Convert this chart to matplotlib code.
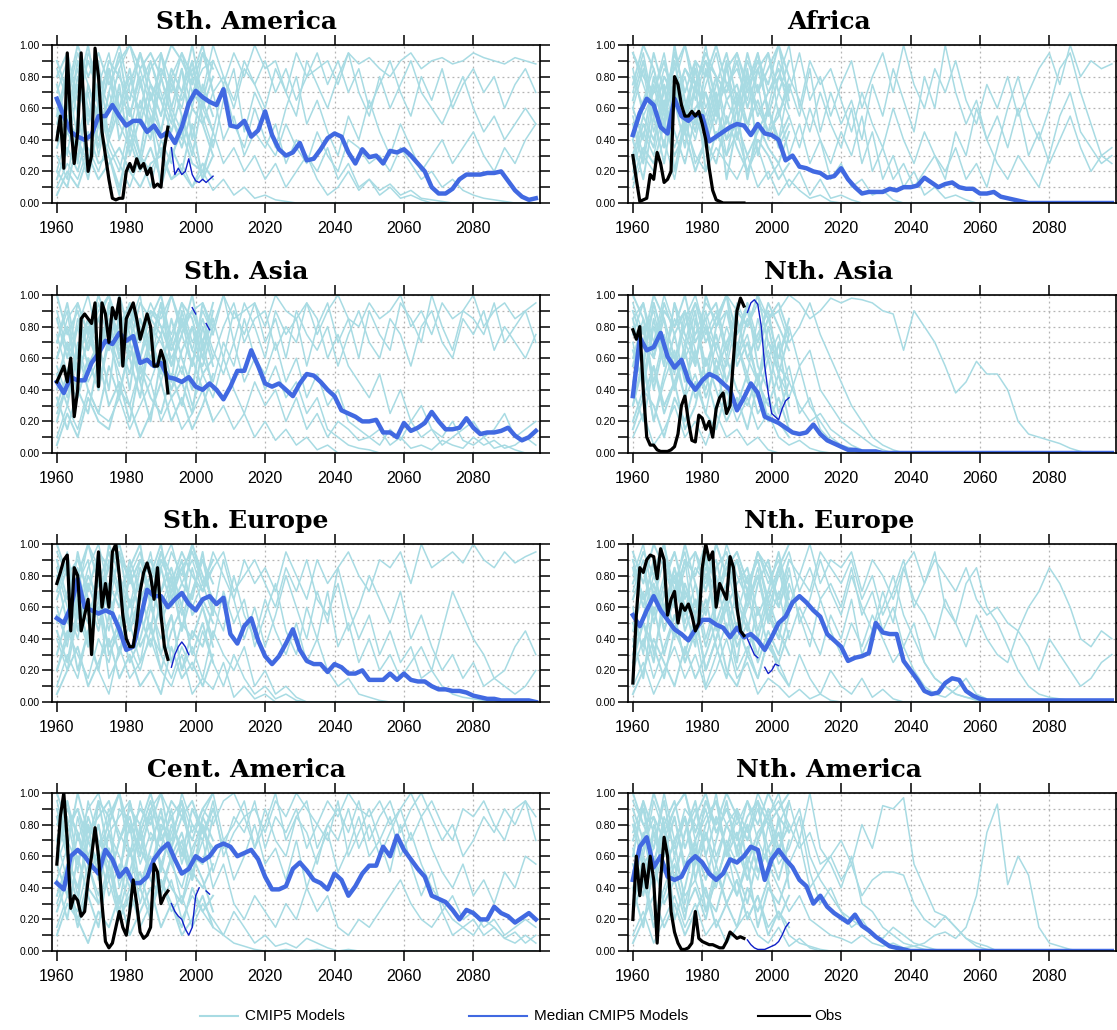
import numpy as np
import matplotlib
matplotlib.use("Agg")
import matplotlib.pyplot as plt
from matplotlib.lines import Line2D
from matplotlib.ticker import MultipleLocator

plt.rcParams.update({'font.family': ['Liberation Sans', 'DejaVu Sans']})

MODEL_COL = '#a8dbe3'
MEDIAN_COL = '#4169e1'
TAIL_COL = '#1020c8'

# all values are fractions x 100
# median: every 2 years from 1960, obs: yearly 1960-1992,
# tail: yearly 1993-2005, models: every 3 years from 1960, hist: every 3 years 1960-2005

# ---- Sth. America
sam_median = [66, 55, 45, 42, 40, 43, 55, 55, 62, 55, 49, 52, 52, 45, 49, 42, 45, 38, 48, 63,
              71, 67, 64, 62, 72, 49, 48, 52, 42, 46, 58, 43, 34, 30, 32, 38, 27, 28, 34, 41,
              44, 42, 32, 25, 34, 29, 30, 25, 33, 32, 34, 30, 25, 20, 10, 6, 6, 9, 15, 18,
              18, 18, 19, 19, 20, 14, 8, 4, 2, 3]
sam_obs = [40, 55, 22, 95, 50, 25, 45, 95, 50, 20, 30, 98, 80, 45, 30, 15, 3, 2, 3, 3,
           20, 25, 20, 28, 22, 25, 18, 22, 10, 12, 10, 35, 48]
sam_tail = [35, 18, 22, 18, 20, 28, 18, 14, 13, 15, 13, 15, 17]
sam_models = [
    [70, 90, 55, 95, 80, 60, 85, 100, 75, 90, 65, 80, 95, 70, 85, 90, 75, 95, 80, 100,
     85, 90, 70, 95, 80, 85, 90, 75, 95, 88, 92, 85, 80, 90, 95, 85, 90, 92, 88, 90,
     95, 92, 90, 88, 92, 90, 88],
    [40, 60, 85, 50, 75, 95, 60, 80, 55, 90, 70, 50, 85, 60, 95, 70, 80, 65, 90, 75,
     60, 85, 70, 55, 90, 75, 60, 80, 95, 70, 55, 80, 60, 75, 90, 70, 60, 50, 65, 80,
     60, 45, 55, 40, 50, 60, 50],
    [20, 45, 30, 60, 40, 70, 50, 35, 65, 45, 80, 55, 40, 70, 60, 45, 75, 50, 35, 60,
     40, 30, 50, 35, 25, 45, 30, 20, 40, 35, 25, 30, 20, 35, 25, 15, 20, 10, 15, 8,
     5, 3, 2, 1, 0, 0, 0],
    [60, 30, 75, 50, 90, 40, 70, 55, 85, 60, 45, 75, 60, 90, 50, 70, 40, 55, 30, 45,
     35, 50, 25, 40, 30, 20, 35, 15, 25, 10, 15, 8, 12, 5, 8, 3, 2, 1, 0, 0,
     0, 0, 0, 0, 0, 0, 0],
    [10, 25, 15, 35, 20, 40, 25, 10, 30, 20, 35, 15, 25, 10, 20, 8, 15, 5, 10, 3,
     5, 2, 1, 0, 0, 0, 0, 0, 0, 0, 0, 0, 0, 0, 0, 0, 0, 0, 0, 0,
     0, 0, 0, 0, 0, 0, 0],
    [85, 65, 95, 75, 55, 80, 100, 70, 60, 85, 95, 75, 65, 85, 70, 100, 80, 60, 85, 75,
     90, 70, 85, 65, 80, 95, 75, 90, 70, 85, 60, 75, 90, 70, 55, 80, 65, 85, 60, 75,
     85, 70, 80, 60, 75, 85, 70],
    [50, 80, 40, 70, 30, 60, 85, 45, 75, 55, 30, 60, 45, 80, 55, 35, 65, 85, 45, 70,
     55, 35, 60, 80, 50, 65, 45, 30, 55, 40, 65, 45, 30, 50, 35, 20, 30, 40, 25, 35,
     45, 30, 20, 35, 25, 40, 50],
    [30, 15, 55, 25, 65, 35, 20, 50, 30, 10, 40, 25, 55, 35, 15, 45, 25, 35, 20, 30,
     15, 25, 10, 20, 30, 15, 5, 10, 20, 8, 15, 5, 10, 3, 5, 2, 0, 0, 0, 0,
     0, 0, 0, 0, 0, 0, 0],
]
sam_hist = [
    [90, 70, 100, 80, 95, 75, 90, 100, 85, 95, 80, 100, 90, 75, 95, 85],
    [15, 35, 20, 45, 25, 30, 10, 40, 20, 35, 15, 30, 45, 25, 20, 40],
    [65, 45, 80, 55, 70, 40, 60, 85, 50, 75, 65, 45, 70, 90, 60, 80],
    [35, 55, 40, 25, 60, 45, 75, 30, 55, 40, 80, 55, 35, 60, 50, 30],
    [80, 95, 65, 90, 70, 85, 55, 75, 95, 65, 85, 70, 95, 80, 100, 70],
    [5, 20, 10, 30, 15, 25, 35, 20, 10, 25, 30, 15, 20, 10, 25, 15],
    [55, 85, 70, 100, 60, 90, 80, 65, 95, 75, 55, 85, 70, 100, 65, 90],
    [20, 10, 40, 15, 50, 30, 5, 45, 25, 55, 10, 35, 20, 50, 15, 30],
    [75, 50, 90, 60, 35, 70, 95, 55, 80, 45, 95, 60, 85, 40, 75, 55],
    [45, 65, 25, 75, 50, 85, 40, 60, 30, 70, 45, 80, 55, 30, 65, 45],
]

# ---- Africa
afr_median = [43, 57, 66, 62, 48, 44, 66, 55, 52, 56, 55, 39, 42, 45, 48, 50, 49, 43, 50, 44,
              43, 40, 27, 30, 23, 22, 20, 19, 16, 17, 22, 15, 10, 6, 7, 7, 7, 9, 8, 10,
              10, 11, 16, 13, 10, 12, 13, 10, 9, 9, 6, 6, 7, 4, 3, 2, 1, 0, 0, 0,
              0, 0, 0, 0, 0, 0, 0, 0, 0, 0]
afr_obs = [30, 15, 1, 2, 3, 18, 15, 32, 25, 13, 15, 20, 80, 75, 62, 55, 55, 58, 55, 58,
           50, 40, 22, 8, 2, 1, 0, 0, 0, 0, 0, 0, 0]
afr_tail = [0, 0, 0, 0, 0, 0, 0, 0, 0, 0, 0, None, None]
afr_models = [
    [70, 95, 60, 85, 75, 100, 65, 90, 80, 70, 95, 75, 85, 60, 90, 70, 95, 65, 80, 55,
     75, 90, 60, 80, 95, 70, 100, 75, 60, 85, 70, 90, 65, 50, 75, 60, 80, 55, 70, 85,
     95, 75, 100, 80, 90, 85, 88],
    [40, 65, 85, 55, 75, 45, 90, 60, 80, 50, 70, 45, 85, 60, 40, 75, 55, 85, 45, 70,
     50, 65, 40, 75, 55, 85, 65, 45, 80, 60, 100, 70, 50, 65, 40, 55, 35, 60, 30, 45,
     25, 40, 55, 35, 20, 30, 25],
    [85, 55, 70, 95, 60, 80, 50, 75, 95, 65, 50, 80, 60, 45, 70, 55, 35, 60, 40, 25,
     45, 30, 55, 20, 35, 15, 25, 10, 20, 30, 15, 45, 30, 60, 40, 25, 15, 30, 20, 10,
     30, 55, 70, 45, 35, 25, 30],
    [20, 45, 30, 60, 35, 55, 25, 40, 65, 30, 45, 20, 35, 15, 25, 10, 20, 5, 15, 3,
     5, 2, 0, 0, 0, 0, 0, 0, 0, 0, 0, 0, 0, 0, 0, 0, 0, 0, 0, 0,
     0, 0, 0, 0, 0, 0, 0],
    [55, 30, 75, 45, 90, 60, 40, 70, 50, 85, 60, 90, 70, 95, 55, 80, 65, 45, 70, 50,
     35, 60, 25, 45, 15, 30, 10, 20, 5, 10, 3, 5, 2, 0, 0, 0, 0, 0, 0, 0,
     0, 0, 0, 0, 0, 0, 0],
    [95, 75, 55, 80, 65, 85, 70, 100, 60, 75, 85, 65, 95, 70, 80, 100, 60, 90, 75, 85,
     65, 45, 70, 50, 35, 60, 40, 25, 45, 30, 20, 35, 15, 25, 10, 35, 60, 80, 55, 40,
     60, 85, 95, 70, 50, 30, 35],
    [10, 30, 20, 40, 15, 50, 30, 20, 35, 25, 15, 30, 10, 20, 5, 15, 8, 3, 5, 1,
     0, 0, 0, 0, 0, 0, 0, 0, 0, 0, 0, 0, 0, 0, 0, 0, 0, 0, 0, 0,
     0, 0, 0, 0, 0, 0, 0],
    [60, 85, 45, 70, 90, 50, 75, 55, 80, 40, 65, 50, 75, 40, 60, 30, 50, 25, 40, 15,
     25, 10, 15, 5, 8, 2, 0, 0, 0, 0, 0, 0, 0, 0, 0, 0, 0, 0, 0, 0,
     0, 0, 0, 0, 0, 0, 0],
]
afr_hist = [
    [80, 60, 95, 70, 85, 100, 75, 90, 65, 85, 95, 70, 90, 75, 100, 80],
    [30, 55, 40, 65, 45, 25, 55, 35, 60, 40, 50, 30, 45, 60, 35, 50],
    [95, 80, 70, 90, 60, 85, 75, 95, 80, 70, 90, 60, 85, 95, 70, 90],
    [15, 35, 25, 50, 30, 45, 20, 40, 25, 55, 35, 20, 40, 30, 15, 25],
    [65, 90, 55, 80, 70, 60, 85, 50, 75, 95, 65, 80, 55, 70, 85, 60],
    [50, 25, 65, 35, 80, 45, 60, 70, 40, 65, 75, 50, 65, 45, 55, 75],
    [75, 100, 85, 60, 95, 70, 90, 80, 100, 75, 60, 95, 70, 85, 100, 65],
    [40, 15, 55, 25, 65, 35, 75, 20, 45, 30, 60, 15, 50, 35, 25, 45],
    [60, 40, 80, 50, 100, 65, 45, 85, 55, 90, 40, 75, 95, 55, 80, 70],
    [25, 50, 35, 75, 20, 55, 85, 45, 70, 15, 50, 85, 30, 60, 40, 55],
]

# ---- Sth. Asia
sas_median = [45, 38, 48, 46, 46, 57, 63, 71, 69, 76, 71, 74, 57, 59, 55, 57, 48, 47, 45, 48,
              42, 40, 44, 40, 34, 42, 52, 52, 65, 55, 44, 42, 44, 40, 36, 44, 50, 49, 45, 40,
              36, 27, 25, 23, 20, 20, 21, 13, 13, 10, 19, 14, 16, 19, 26, 20, 15, 15, 16, 22,
              16, 12, 13, 13, 14, 16, 11, 8, 10, 14]
sas_obs = [45, 50, 55, 45, 60, 23, 40, 85, 88, 85, 82, 95, 42, 95, 88, 70, 92, 85, 98, 55,
           85, 90, 95, 85, 72, 80, 88, 80, 55, 55, 65, 58, 38]
sas_tail = [43, None, None, None, 60, None, 92, 88, None, None, 82, 78, None]
sas_models = [
    [60, 85, 95, 75, 90, 100, 80, 95, 70, 90, 85, 100, 75, 90, 95, 80, 100, 85, 90, 95,
     80, 100, 90, 85, 95, 75, 90, 100, 85, 80, 95, 85, 90, 100, 80, 90, 75, 95, 85, 90,
     100, 80, 90, 95, 85, 90, 95],
    [40, 70, 55, 85, 65, 90, 75, 60, 85, 70, 95, 65, 80, 90, 70, 85, 60, 90, 75, 95,
     70, 85, 60, 90, 75, 65, 80, 55, 75, 90, 70, 60, 85, 75, 55, 80, 90, 70, 60, 85,
     75, 90, 65, 80, 70, 60, 75],
    [75, 50, 85, 65, 95, 70, 80, 90, 60, 80, 70, 55, 85, 65, 90, 75, 100, 70, 95, 80,
     60, 90, 75, 85, 55, 80, 95, 70, 85, 60, 90, 75, 65, 95, 85, 70, 100, 80, 65, 90,
     85, 75, 95, 70, 80, 90, 70],
    [25, 45, 35, 60, 40, 70, 50, 30, 55, 45, 65, 40, 55, 30, 50, 35, 60, 40, 25, 45,
     30, 40, 20, 35, 15, 25, 10, 20, 15, 8, 10, 5, 15, 8, 20, 10, 15, 5, 10, 15,
     20, 10, 15, 25, 10, 15, 20],
    [90, 65, 80, 100, 70, 85, 60, 90, 75, 95, 80, 60, 75, 55, 85, 65, 50, 70, 45, 60,
     40, 55, 35, 45, 25, 35, 15, 10, 5, 3, 2, 0, 0, 0, 0, 0, 0, 0, 0, 0,
     0, 0, 0, 0, 0, 0, 0],
    [10, 30, 15, 40, 25, 20, 35, 15, 30, 45, 20, 35, 15, 25, 40, 20, 30, 15, 25, 10,
     20, 8, 15, 5, 10, 2, 5, 0, 0, 0, 0, 0, 0, 0, 0, 0, 0, 0, 0, 0,
     0, 0, 0, 0, 0, 0, 0],
    [55, 35, 70, 45, 60, 80, 40, 65, 50, 75, 45, 70, 50, 80, 60, 45, 70, 55, 85, 60,
     50, 70, 45, 60, 35, 50, 30, 40, 20, 15, 10, 15, 5, 10, 3, 5, 2, 8, 5, 3,
     10, 5, 8, 3, 5, 10, 5],
    [70, 90, 45, 75, 55, 95, 65, 80, 100, 55, 90, 75, 95, 70, 85, 60, 80, 95, 70, 85,
     90, 65, 80, 70, 95, 85, 60, 75, 55, 45, 35, 50, 25, 40, 20, 30, 15, 10, 20, 8,
     5, 10, 3, 5, 2, 0, 0],
]
sas_hist = [
    [20, 45, 65, 85, 55, 95, 70, 50, 80, 60, 75, 45, 90, 65, 55, 80],
    [85, 60, 95, 75, 100, 80, 90, 70, 95, 85, 75, 100, 80, 90, 70, 95],
    [35, 15, 40, 25, 60, 30, 45, 20, 55, 35, 25, 50, 30, 60, 40, 20],
    [60, 80, 50, 70, 85, 65, 100, 75, 60, 90, 80, 65, 85, 55, 95, 75],
    [5, 25, 10, 35, 20, 15, 40, 30, 10, 25, 45, 20, 35, 15, 30, 50],
    [45, 70, 35, 60, 40, 75, 55, 85, 45, 70, 55, 40, 65, 80, 50, 60],
    [100, 75, 90, 65, 85, 100, 60, 95, 75, 85, 100, 70, 95, 85, 60, 90],
    [50, 30, 65, 40, 25, 55, 35, 70, 45, 20, 60, 35, 45, 25, 70, 40],
    [70, 95, 60, 80, 55, 90, 75, 40, 85, 65, 95, 55, 75, 100, 65, 85],
    [30, 50, 80, 55, 70, 40, 90, 60, 35, 75, 50, 85, 60, 40, 80, 55],
]

# ---- Nth. Asia
nas_median = [36, 73, 65, 67, 76, 61, 54, 59, 46, 40, 46, 50, 48, 44, 40, 27, 35, 44, 38, 23,
              21, 19, 16, 13, 12, 13, 18, 12, 8, 6, 4, 2, 2, 1, 1, 1, 0, 0, 0, 0,
              0, 0, 0, 0, 0, 0, 0, 0, 0, 0, 0, 0, 0, 0, 0, 0, 0, 0, 0, 0,
              0, 0, 0, 0, 0, 0, 0, 0, 0, 0]
nas_obs = [78, 72, 80, 40, 10, 5, 5, 2, 1, 1, 1, 2, 4, 12, 30, 36, 20, 8, 7, 24,
           22, 15, 20, 10, 28, 35, 38, 25, 30, 60, 90, 98, 93]
nas_tail = [89, 95, 97, 94, 80, 55, 38, 25, 23, 21, 28, 33, 35]
nas_models = [
    [85, 95, 70, 100, 80, 90, 75, 95, 85, 100, 90, 80, 95, 85, 90, 100, 95, 85, 90, 98,
     95, 98, 97, 95, 90, 88, 65, 90, 80, 70, 55, 38, 45, 58, 50, 50, 40, 20, 12, 10,
     8, 6, 3, 1, 0, 0, 0],
    [95, 75, 90, 60, 85, 70, 95, 80, 65, 90, 75, 95, 70, 85, 60, 80, 55, 65, 40, 30,
     20, 15, 10, 5, 2, 0, 0, 0, 0, 0, 0, 0, 0, 0, 0, 0, 0, 0, 0, 0,
     0, 0, 0, 0, 0, 0, 0],
    [60, 85, 45, 75, 55, 90, 65, 40, 70, 55, 85, 60, 45, 70, 50, 35, 55, 30, 20, 10,
     5, 3, 1, 0, 0, 0, 0, 0, 0, 0, 0, 0, 0, 0, 0, 0, 0, 0, 0, 0,
     0, 0, 0, 0, 0, 0, 0],
    [30, 55, 20, 45, 65, 35, 50, 25, 60, 40, 20, 35, 15, 25, 10, 5, 8, 3, 1, 0,
     0, 0, 0, 0, 0, 0, 0, 0, 0, 0, 0, 0, 0, 0, 0, 0, 0, 0, 0, 0,
     0, 0, 0, 0, 0, 0, 0],
    [80, 60, 95, 70, 50, 85, 100, 75, 90, 60, 95, 80, 100, 85, 90, 70, 80, 95, 75, 60,
     45, 30, 20, 10, 5, 2, 0, 0, 0, 0, 0, 0, 0, 0, 0, 0, 0, 0, 0, 0,
     0, 0, 0, 0, 0, 0, 0],
    [10, 25, 5, 15, 30, 10, 20, 5, 25, 10, 15, 5, 10, 2, 0, 0, 0, 0, 0, 0,
     0, 0, 0, 0, 0, 0, 0, 0, 0, 0, 0, 0, 0, 0, 0, 0, 0, 0, 0, 0,
     0, 0, 0, 0, 0, 0, 0],
    [70, 40, 80, 55, 95, 60, 75, 85, 50, 80, 60, 75, 45, 65, 40, 55, 25, 35, 15, 8,
     3, 1, 0, 0, 0, 0, 0, 0, 0, 0, 0, 0, 0, 0, 0, 0, 0, 0, 0, 0,
     0, 0, 0, 0, 0, 0, 0],
    [45, 70, 60, 85, 40, 70, 55, 90, 65, 45, 70, 50, 85, 60, 75, 45, 30, 20, 25, 15,
     10, 5, 2, 0, 0, 0, 0, 0, 0, 0, 0, 0, 0, 0, 0, 0, 0, 0, 0, 0,
     0, 0, 0, 0, 0, 0, 0],
]
nas_hist = [
    [90, 70, 100, 85, 60, 80, 95, 70, 85, 100, 75, 90, 65, 85, 95, 75],
    [40, 20, 55, 30, 45, 65, 35, 50, 25, 60, 40, 30, 50, 20, 35, 15],
    [75, 95, 60, 90, 80, 100, 70, 85, 95, 65, 90, 80, 100, 70, 60, 85],
    [20, 40, 30, 10, 35, 20, 45, 25, 15, 40, 30, 50, 25, 35, 20, 10],
    [65, 45, 85, 55, 95, 75, 60, 80, 50, 70, 85, 60, 75, 90, 55, 45],
    [55, 80, 40, 70, 60, 35, 85, 55, 75, 45, 65, 95, 55, 40, 70, 30],
    [100, 85, 65, 95, 75, 90, 55, 100, 80, 90, 60, 85, 70, 95, 80, 65],
    [30, 60, 20, 50, 75, 45, 65, 35, 55, 25, 70, 45, 35, 60, 25, 45],
    [85, 55, 95, 70, 40, 65, 90, 45, 80, 100, 55, 70, 45, 80, 50, 75],
    [15, 35, 55, 25, 45, 15, 30, 60, 40, 20, 35, 15, 45, 30, 50, 20],
]

# ---- Sth. Europe
seu_median = [53, 50, 60, 78, 60, 58, 56, 58, 56, 46, 33, 35, 52, 71, 67, 67, 60, 65, 69, 62,
              58, 65, 67, 62, 66, 43, 37, 48, 53, 39, 29, 24, 29, 37, 46, 33, 26, 24, 24, 19,
              24, 22, 18, 18, 20, 14, 14, 14, 18, 14, 18, 14, 13, 13, 10, 8, 8, 7, 7, 6,
              4, 3, 2, 2, 1, 1, 1, 1, 1, 0]
seu_obs = [75, 82, 90, 93, 45, 85, 80, 45, 55, 65, 30, 65, 95, 60, 75, 60, 95, 100, 80, 55,
           40, 35, 35, 50, 70, 82, 88, 80, 65, 85, 55, 35, 27]
seu_tail = [22, 30, 35, 38, 35, 30, None, 50, None, None, None, None, None]
seu_models = [
    [75, 95, 60, 85, 100, 70, 90, 80, 95, 65, 85, 100, 75, 90, 70, 95, 80, 65, 90, 75,
     85, 70, 95, 80, 65, 90, 75, 85, 95, 80, 70, 90, 85, 95, 75, 100, 85, 90, 95, 88,
     100, 90, 85, 95, 88, 92, 95],
    [50, 70, 85, 55, 75, 45, 80, 60, 90, 70, 55, 75, 45, 85, 60, 40, 70, 50, 65, 35,
     55, 75, 45, 30, 60, 40, 70, 35, 50, 25, 40, 20, 30, 15, 25, 35, 20, 45, 70, 55,
     40, 30, 15, 10, 5, 10, 20],
    [85, 60, 40, 75, 55, 90, 65, 45, 70, 95, 60, 80, 55, 70, 90, 60, 45, 80, 55, 40,
     65, 45, 30, 50, 25, 40, 20, 10, 15, 5, 3, 1, 0, 0, 0, 0, 0, 0, 0, 0,
     0, 0, 0, 0, 0, 0, 0],
    [20, 45, 30, 15, 40, 25, 55, 35, 20, 45, 30, 15, 35, 20, 45, 25, 10, 30, 15, 5,
     10, 2, 5, 1, 0, 0, 0, 0, 0, 0, 0, 0, 0, 0, 0, 0, 0, 0, 0, 0,
     0, 0, 0, 0, 0, 0, 0],
    [60, 35, 75, 90, 50, 70, 40, 85, 55, 75, 95, 70, 85, 60, 75, 55, 90, 65, 40, 60,
     35, 55, 80, 60, 40, 70, 50, 85, 60, 40, 55, 30, 45, 25, 35, 15, 20, 10, 5, 3,
     2, 1, 0, 0, 0, 0, 0],
    [40, 20, 55, 35, 65, 15, 30, 50, 25, 60, 40, 55, 20, 35, 15, 45, 30, 20, 35, 10,
     20, 5, 10, 3, 0, 0, 0, 0, 0, 0, 0, 0, 0, 0, 0, 0, 0, 0, 0, 0,
     0, 0, 0, 0, 0, 0, 0],
    [95, 80, 70, 100, 85, 60, 95, 75, 90, 85, 70, 95, 80, 100, 75, 85, 95, 70, 80, 90,
     75, 60, 85, 70, 90, 65, 55, 75, 45, 60, 80, 65, 50, 70, 40, 55, 35, 20, 30, 15,
     25, 10, 15, 20, 35, 45, 30],
    [10, 30, 15, 45, 20, 5, 35, 15, 25, 40, 20, 10, 30, 5, 15, 8, 25, 3, 10, 2,
     5, 0, 0, 0, 0, 0, 0, 0, 0, 0, 0, 0, 0, 0, 0, 0, 0, 0, 0, 0,
     0, 0, 0, 0, 0, 0, 0],
]
seu_hist = [
    [90, 65, 80, 100, 75, 95, 70, 85, 100, 60, 90, 75, 95, 80, 70, 85],
    [30, 55, 20, 45, 60, 35, 50, 25, 40, 65, 30, 55, 20, 45, 35, 60],
    [70, 90, 55, 80, 65, 85, 95, 60, 75, 90, 70, 85, 60, 100, 80, 65],
    [5, 20, 35, 10, 25, 40, 15, 30, 10, 20, 5, 35, 15, 25, 10, 30],
    [55, 40, 70, 35, 90, 55, 75, 45, 65, 80, 50, 70, 90, 55, 65, 50],
    [80, 50, 95, 65, 45, 75, 60, 90, 70, 45, 85, 60, 75, 65, 95, 55],
    [100, 80, 90, 70, 95, 85, 100, 75, 90, 80, 100, 65, 85, 95, 75, 90],
    [45, 25, 60, 40, 20, 55, 30, 65, 35, 50, 20, 45, 60, 30, 50, 25],
    [65, 85, 45, 75, 55, 100, 80, 50, 85, 65, 95, 80, 45, 70, 90, 75],
    [20, 40, 65, 50, 70, 30, 45, 80, 55, 35, 65, 25, 50, 40, 60, 35],
]

# ---- Nth. Europe
neu_median = [55, 48, 58, 67, 58, 52, 46, 43, 39, 46, 52, 52, 49, 47, 41, 47, 41, 43, 39, 33,
              41, 50, 54, 63, 67, 63, 58, 54, 43, 39, 35, 26, 28, 29, 31, 50, 44, 43, 43, 26,
              20, 14, 7, 5, 6, 12, 15, 14, 7, 4, 2, 1, 1, 1, 1, 1, 1, 1, 1, 1,
              1, 1, 1, 1, 1, 1, 1, 1, 1, 1]
neu_obs = [12, 55, 85, 82, 90, 93, 92, 78, 97, 90, 55, 65, 70, 50, 62, 58, 62, 55, 45, 50,
           85, 100, 90, 95, 60, 75, 70, 65, 92, 85, 60, 45, 42]
neu_tail = [40, 35, 30, 28, None, 22, 18, 20, 24, 23, None, None, None]
neu_models = [
    [70, 90, 55, 80, 95, 65, 85, 75, 100, 80, 90, 70, 95, 85, 65, 90, 80, 100, 75, 90,
     85, 95, 70, 90, 80, 65, 85, 95, 75, 90, 80, 70, 85, 65, 55, 60, 50, 45, 60, 70,
     85, 75, 60, 40, 35, 45, 40],
    [45, 70, 30, 60, 85, 50, 75, 40, 65, 90, 55, 80, 45, 70, 60, 85, 50, 65, 90, 70,
     55, 80, 60, 45, 70, 50, 85, 65, 55, 40, 65, 50, 35, 55, 40, 30, 25, 45, 35, 20,
     40, 30, 20, 10, 15, 25, 30],
    [90, 65, 85, 100, 70, 55, 95, 80, 60, 85, 95, 75, 90, 60, 80, 95, 70, 85, 65, 75,
     60, 85, 55, 70, 45, 60, 35, 50, 25, 15, 10, 5, 3, 1, 0, 0, 0, 0, 0, 0,
     0, 0, 0, 0, 0, 0, 0],
    [20, 40, 15, 35, 55, 25, 45, 10, 30, 50, 20, 35, 15, 40, 25, 10, 30, 15, 5, 20,
     10, 5, 15, 3, 8, 2, 0, 0, 0, 0, 0, 0, 0, 0, 0, 0, 0, 0, 0, 0,
     0, 0, 0, 0, 0, 0, 0],
    [60, 30, 75, 45, 65, 90, 40, 60, 80, 45, 70, 50, 30, 60, 40, 75, 55, 35, 65, 45,
     30, 50, 35, 55, 40, 25, 35, 20, 10, 5, 3, 8, 15, 5, 2, 0, 0, 0, 0, 0,
     0, 0, 0, 0, 0, 0, 0],
    [35, 55, 80, 60, 40, 70, 55, 90, 45, 65, 40, 60, 85, 50, 70, 40, 60, 45, 30, 55,
     40, 65, 30, 45, 60, 80, 55, 40, 25, 15, 10, 5, 3, 2, 1, 0, 0, 0, 0, 0,
     0, 0, 0, 0, 0, 0, 0],
    [10, 25, 5, 20, 35, 15, 30, 8, 20, 40, 15, 25, 5, 15, 10, 3, 8, 2, 5, 1,
     0, 0, 0, 0, 0, 0, 0, 0, 0, 0, 0, 0, 0, 0, 0, 0, 0, 0, 0, 0,
     0, 0, 0, 0, 0, 0, 0],
    [80, 100, 65, 90, 75, 95, 60, 85, 70, 100, 80, 65, 95, 75, 90, 60, 80, 70, 95, 85,
     75, 90, 65, 80, 55, 70, 90, 60, 75, 95, 60, 50, 75, 85, 60, 50, 35, 20, 10, 5,
     3, 2, 1, 0, 0, 0, 0],
]
neu_hist = [
    [95, 75, 100, 85, 65, 90, 80, 100, 70, 85, 95, 75, 90, 65, 85, 100],
    [25, 50, 35, 15, 45, 30, 55, 20, 40, 65, 35, 50, 25, 45, 30, 55],
    [65, 85, 50, 75, 95, 70, 55, 80, 90, 60, 75, 85, 55, 70, 95, 65],
    [5, 20, 40, 25, 10, 35, 15, 30, 50, 20, 10, 30, 15, 40, 20, 10],
    [50, 35, 70, 55, 80, 45, 65, 35, 60, 75, 45, 65, 80, 55, 40, 70],
    [85, 60, 90, 45, 70, 100, 75, 55, 85, 95, 65, 45, 75, 90, 60, 80],
    [75, 95, 80, 100, 60, 85, 95, 70, 100, 80, 90, 70, 95, 80, 65, 90],
    [40, 15, 60, 30, 55, 25, 45, 65, 35, 15, 50, 30, 60, 35, 25, 45],
    [90, 65, 75, 55, 85, 60, 35, 95, 50, 70, 90, 60, 80, 50, 85, 55],
    [30, 50, 25, 70, 45, 75, 55, 20, 40, 60, 25, 70, 40, 65, 45, 30],
]

# ---- Cent. America
cam_median = [43, 39, 60, 64, 60, 54, 49, 64, 58, 47, 52, 43, 43, 47, 58, 64, 68, 58, 49, 52,
              60, 57, 60, 66, 68, 66, 60, 62, 64, 58, 47, 39, 39, 41, 52, 56, 51, 45, 43, 39,
              49, 45, 35, 41, 49, 54, 54, 66, 60, 73, 64, 58, 52, 47, 35, 33, 31, 26, 20, 26,
              24, 20, 20, 28, 24, 22, 18, 21, 24, 20]
cam_obs = [55, 85, 100, 70, 27, 35, 32, 22, 25, 45, 60, 78, 60, 30, 6, 2, 5, 15, 25, 15,
           10, 25, 45, 30, 12, 8, 10, 15, 55, 50, 30, 35, 38]
cam_tail = [30, 25, 22, 20, 14, 10, 15, 35, 40, None, 38, 36, None]
cam_models = [
    [80, 95, 70, 90, 100, 75, 85, 95, 70, 90, 100, 85, 95, 75, 90, 80, 95, 100, 85, 90,
     75, 95, 85, 100, 90, 80, 95, 85, 100, 90, 85, 95, 80, 90, 100, 85, 95, 80, 70, 90,
     85, 95, 80, 70, 90, 95, 85],
    [55, 75, 90, 60, 80, 45, 70, 85, 55, 75, 65, 90, 55, 80, 70, 95, 60, 75, 85, 65,
     90, 70, 60, 85, 75, 55, 80, 70, 90, 65, 80, 60, 75, 90, 70, 85, 65, 50, 40, 55,
     35, 45, 30, 50, 40, 60, 55],
    [30, 50, 20, 45, 65, 35, 55, 25, 40, 60, 30, 45, 20, 35, 25, 15, 10, 5, 3, 1,
     0, 0, 1, 0, 0, 1, 0, 0, 1, 0, 0, 0, 0, 0, 0, 0, 0, 0, 0, 0,
     0, 0, 0, 0, 0, 0, 0],
    [70, 45, 85, 55, 35, 75, 60, 40, 80, 50, 75, 55, 40, 65, 80, 50, 70, 45, 60, 80,
     55, 65, 45, 70, 40, 60, 75, 50, 65, 85, 60, 70, 50, 80, 55, 35, 50, 25, 35, 20,
     25, 15, 20, 10, 15, 20, 15],
    [15, 35, 25, 55, 30, 45, 20, 40, 15, 30, 45, 25, 35, 15, 30, 20, 10, 25, 15, 5,
     10, 3, 5, 2, 8, 5, 2, 0, 0, 0, 0, 0, 0, 0, 0, 0, 0, 0, 0, 0,
     0, 0, 0, 0, 0, 0, 0],
    [95, 70, 55, 80, 65, 90, 75, 60, 95, 70, 85, 65, 100, 80, 70, 90, 65, 85, 75, 95,
     65, 85, 75, 90, 65, 80, 70, 95, 60, 75, 90, 70, 85, 60, 75, 55, 40, 30, 20, 15,
     10, 20, 15, 8, 5, 10, 5],
    [45, 65, 35, 70, 50, 85, 40, 65, 30, 55, 40, 60, 30, 50, 70, 40, 55, 30, 20, 35,
     25, 15, 30, 20, 40, 25, 35, 15, 10, 20, 15, 25, 35, 45, 30, 20, 15, 25, 10, 15,
     20, 10, 15, 8, 12, 5, 10],
    [60, 85, 50, 95, 70, 55, 90, 80, 65, 85, 55, 75, 90, 60, 85, 100, 70, 80, 95, 65,
     80, 100, 70, 85, 95, 65, 80, 90, 75, 95, 70, 85, 95, 75, 90, 100, 85, 70, 80, 60,
     70, 85, 75, 90, 80, 95, 70],
]
cam_hist = [
    [90, 65, 100, 75, 85, 95, 70, 90, 80, 100, 75, 95, 85, 70, 90, 100],
    [25, 45, 15, 40, 30, 55, 20, 35, 50, 25, 45, 30, 15, 40, 25, 35],
    [70, 95, 55, 85, 65, 80, 100, 60, 75, 95, 70, 85, 60, 90, 75, 65],
    [10, 30, 20, 5, 25, 15, 35, 10, 25, 40, 15, 30, 10, 20, 35, 15],
    [55, 35, 75, 45, 95, 60, 50, 80, 40, 65, 90, 55, 70, 45, 80, 60],
    [85, 60, 40, 70, 55, 75, 45, 95, 65, 50, 80, 70, 95, 60, 55, 85],
    [100, 80, 90, 70, 95, 85, 100, 75, 90, 80, 100, 65, 85, 95, 75, 90],
    [45, 20, 60, 35, 15, 55, 30, 65, 40, 20, 55, 40, 30, 60, 45, 25],
    [65, 90, 75, 55, 80, 45, 70, 85, 60, 90, 50, 80, 65, 45, 85, 70],
    [35, 55, 30, 80, 45, 65, 25, 50, 75, 45, 35, 60, 75, 50, 40, 55],
]

# ---- Nth. America
nam_median = [45, 66, 72, 53, 60, 47, 45, 47, 56, 60, 56, 49, 45, 49, 58, 56, 60, 66, 64, 45,
              58, 64, 58, 53, 45, 41, 30, 35, 28, 24, 21, 18, 23, 16, 13, 9, 6, 3, 2, 1,
              0, 0, 0, 0, 0, 0, 0, 0, 0, 0, 0, 0, 0, 0, 0, 0, 0, 0, 0, 0,
              0, 0, 0, 0, 0, 0, 0, 0, 0, 0]
nam_obs = [20, 60, 35, 55, 40, 60, 45, 5, 45, 72, 60, 25, 12, 5, 1, 1, 2, 5, 25, 8,
           6, 5, 4, 4, 3, 2, 2, 6, 12, 10, 8, 9, 8]
nam_tail = [7, 4, 2, 1, 1, 1, 2, 3, 4, 6, 10, 15, 18]
nam_models = [
    [85, 60, 95, 75, 90, 100, 70, 85, 95, 80, 90, 75, 100, 85, 95, 80, 65, 75, 55, 60,
     70, 55, 80, 65, 92, 90, 97, 55, 40, 25, 22, 15, 8, 5, 3, 0, 0, 0, 0, 0,
     0, 0, 0, 0, 0, 0, 0],
    [50, 75, 40, 65, 85, 55, 70, 90, 60, 80, 65, 45, 70, 55, 40, 25, 35, 20, 15, 10,
     8, 5, 10, 5, 3, 5, 2, 3, 5, 10, 12, 8, 15, 35, 75, 93, 42, 60, 48, 15,
     5, 3, 1, 0, 0, 0, 0],
    [95, 80, 65, 100, 70, 85, 60, 95, 75, 90, 80, 95, 70, 85, 100, 75, 90, 60, 45, 35,
     25, 20, 15, 10, 5, 2, 0, 0, 0, 0, 0, 0, 0, 0, 0, 0, 0, 0, 0, 0,
     0, 0, 0, 0, 0, 0, 0],
    [30, 50, 20, 40, 60, 35, 45, 25, 55, 30, 45, 20, 35, 15, 25, 10, 5, 3, 1, 0,
     0, 0, 0, 0, 0, 0, 0, 0, 0, 0, 0, 0, 0, 0, 0, 0, 0, 0, 0, 0,
     0, 0, 0, 0, 0, 0, 0],
    [65, 40, 80, 55, 45, 75, 90, 60, 40, 70, 55, 80, 50, 65, 75, 55, 70, 40, 50, 60,
     45, 55, 35, 45, 50, 50, 48, 30, 20, 15, 22, 15, 8, 3, 1, 0, 0, 0, 0, 0,
     0, 0, 0, 0, 0, 0, 0],
    [10, 25, 5, 20, 35, 15, 30, 10, 20, 5, 15, 25, 10, 5, 15, 3, 8, 2, 0, 0,
     0, 0, 0, 0, 0, 0, 0, 0, 0, 0, 0, 0, 0, 0, 0, 0, 0, 0, 0, 0,
     0, 0, 0, 0, 0, 0, 0],
    [75, 95, 55, 85, 65, 90, 80, 70, 100, 60, 85, 70, 90, 65, 80, 95, 70, 100, 65, 55,
     40, 60, 30, 25, 15, 10, 5, 3, 1, 0, 0, 0, 0, 0, 0, 0, 0, 0, 0, 0,
     0, 0, 0, 0, 0, 0, 0],
    [40, 65, 85, 50, 70, 30, 55, 75, 45, 65, 35, 60, 45, 80, 55, 65, 85, 50, 30, 40,
     25, 15, 20, 10, 8, 15, 10, 5, 3, 1, 0, 0, 0, 0, 0, 0, 0, 0, 0, 0,
     0, 0, 0, 0, 0, 0, 0],
]
nam_hist = [
    [90, 70, 100, 80, 95, 65, 85, 100, 75, 90, 70, 95, 80, 100, 85, 75],
    [25, 45, 15, 35, 55, 25, 40, 20, 50, 30, 15, 40, 25, 45, 20, 35],
    [70, 90, 55, 80, 45, 75, 95, 60, 85, 65, 90, 55, 75, 85, 60, 95],
    [5, 20, 35, 15, 30, 10, 25, 40, 15, 30, 45, 20, 35, 10, 25, 15],
    [55, 35, 75, 60, 85, 50, 65, 45, 70, 95, 60, 80, 50, 65, 45, 70],
    [80, 55, 65, 95, 60, 85, 45, 75, 55, 80, 65, 85, 95, 55, 75, 50],
    [100, 80, 85, 70, 90, 100, 75, 95, 80, 100, 85, 70, 95, 80, 90, 100],
    [40, 15, 55, 30, 45, 20, 60, 35, 25, 50, 35, 55, 15, 40, 30, 50],
    [60, 95, 75, 50, 70, 85, 55, 80, 95, 60, 75, 45, 70, 90, 65, 80],
    [30, 60, 40, 80, 20, 40, 70, 25, 45, 65, 50, 30, 60, 45, 85, 40],
]

panels = [
    ('Sth. America', sam_median, sam_obs, sam_tail, sam_models, sam_hist),
    ('Africa', afr_median, afr_obs, afr_tail, afr_models, afr_hist),
    ('Sth. Asia', sas_median, sas_obs, sas_tail, sas_models, sas_hist),
    ('Nth. Asia', nas_median, nas_obs, nas_tail, nas_models, nas_hist),
    ('Sth. Europe', seu_median, seu_obs, seu_tail, seu_models, seu_hist),
    ('Nth. Europe', neu_median, neu_obs, neu_tail, neu_models, neu_hist),
    ('Cent. America', cam_median, cam_obs, cam_tail, cam_models, cam_hist),
    ('Nth. America', nam_median, nam_obs, nam_tail, nam_models, nam_hist),
]


def years(start, step, vals):
    return start + step * np.arange(len(vals))


def frac(vals):
    return np.array(vals, dtype=float) / 100.0


W, H = 1117.0, 1030.0
fig = plt.figure(figsize=(W / 100, H / 100), dpi=100)

col_left = [52, 628]
row_top = [45, 295, 544, 793]
ax_w, ax_h = 488, 158
title_x = [246, 829]

for k, (name, med, obs, tail, models, hist) in enumerate(panels):
    row, col = divmod(k, 2)
    ax = fig.add_axes([col_left[col] / W, 1 - (row_top[row] + ax_h) / H, ax_w / W, ax_h / H])

    for m in models:
        ax.plot(years(1960, 3, m), frac(m), color=MODEL_COL, lw=1.1)
    for h in hist:
        ax.plot(years(1960, 3, h), frac(h), color=MODEL_COL, lw=1.4)
    ax.plot(years(1960, 2, med), frac(med), color=MEDIAN_COL, lw=3.2)
    ax.plot(years(1993, 1, tail), frac(tail), color=TAIL_COL, lw=1.0)
    ax.plot(years(1960, 1, obs), frac(obs), color='black', lw=2.3)

    ax.set_xlim(1958.6, 2099.2)
    ax.set_ylim(0, 1)
    ax.xaxis.set_major_locator(MultipleLocator(20))
    ax.yaxis.set_major_locator(MultipleLocator(0.2))
    ax.yaxis.set_minor_locator(MultipleLocator(0.1))
    ax.yaxis.set_major_formatter(plt.FormatStrFormatter('%.2f'))
    ax.grid(True, axis='y', which='both', color='#b4b4b4', lw=0.9, ls=(0, (1.5, 2.5)))
    ax.grid(True, axis='x', which='major', color='#b4b4b4', lw=0.9, ls=(0, (1.5, 2.5)))
    ax.set_axisbelow(True)
    ax.tick_params(which='both', direction='out', length=7, width=1.1,
                   top=True, right=True, colors='black')
    ax.tick_params(axis='x', labelsize=11.5, pad=6)
    ax.tick_params(axis='y', labelsize=7.5, pad=2)
    for sp in ax.spines.values():
        sp.set_linewidth(1.2)

    fig.text(title_x[col] / W, 1 - (row_top[row] - 23) / H, name, ha='center', va='center',
             fontsize=18, fontweight='bold', family='DejaVu Serif')

# legend along the bottom
ly = 1 - 1016 / H
legend_items = [((200, 238), MODEL_COL, 1.5, 245, 'CMIP5 Models'),
                ((469, 527), MEDIAN_COL, 1.5, 534, 'Median CMIP5 Models'),
                ((758, 810), 'black', 1.5, 814, 'Obs')]
for (x0, x1), c, lw, tx, label in legend_items:
    fig.add_artist(Line2D([x0 / W, x1 / W], [ly, ly], color=c, lw=lw, transform=fig.transFigure))
    fig.text(tx / W, ly, label, ha='left', va='center', fontsize=11)

fig.savefig('out.png', dpi=100)
